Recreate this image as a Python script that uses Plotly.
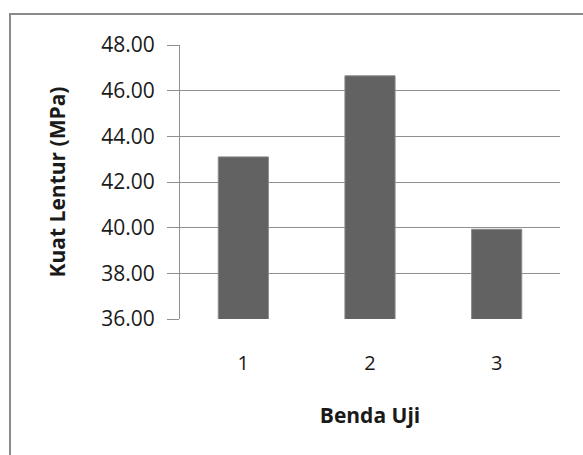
import plotly.graph_objects as go

# Flexural strength per test specimen
specimens = ["1", "2", "3"]
strength_mpa = [43.10, 46.65, 39.93]
y_ticks = [36, 38, 40, 42, 44, 46, 48]

W, H = 583, 455
ML, MR, MT, MB = 180, 23, 45, 136
PW, PH = W - ML - MR, H - MT - MB


def px_x(p):
    return (p - ML) / PW


def px_y(p):
    return 1 - (p - MT) / PH


fig = go.Figure(
    go.Bar(
        x=specimens,
        y=strength_mpa,
        marker=dict(color="#626262", line=dict(color="#8a8a8a", width=1)),
    )
)

font_family = "Open Sans, Noto Sans, sans-serif"

fig.update_layout(
    width=W,
    height=H,
    margin=dict(l=ML, r=MR, t=MT, b=MB, pad=0),
    paper_bgcolor="white",
    plot_bgcolor="white",
    bargap=0.604,
    showlegend=False,
    font=dict(family=font_family, color="#1a1a1a"),
    xaxis=dict(
        type="category",
        showgrid=False,
        showline=False,
        ticks="",
        tickfont=dict(size=20),
        ticklabelstandoff=30,
        title=dict(text="<b>Benda Uji</b>", font=dict(size=21), standoff=33),
    ),
    yaxis=dict(
        range=[36, 48],
        tickvals=y_ticks,
        tickformat=".2f",
        showgrid=True,
        gridcolor="#8f8f8f",
        gridwidth=1,
        showline=True,
        linecolor="#8f8f8f",
        linewidth=1,
        ticks="outside",
        ticklen=12,
        tickcolor="#8f8f8f",
        tickfont=dict(size=21),
        ticklabelstandoff=8,
        zeroline=False,
        title=dict(text="<b>Kuat Lentur (MPa)</b>", font=dict(size=21), standoff=29),
    ),
    shapes=[
        dict(
            type="rect",
            xref="paper",
            yref="paper",
            x0=px_x(10),
            x1=px_x(W + 20),
            y0=px_y(14),
            y1=px_y(H + 20),
            line=dict(color="#8a8a8a", width=2),
            fillcolor="rgba(0,0,0,0)",
            layer="above",
        )
    ],
)

fig.write_html("out.html")
